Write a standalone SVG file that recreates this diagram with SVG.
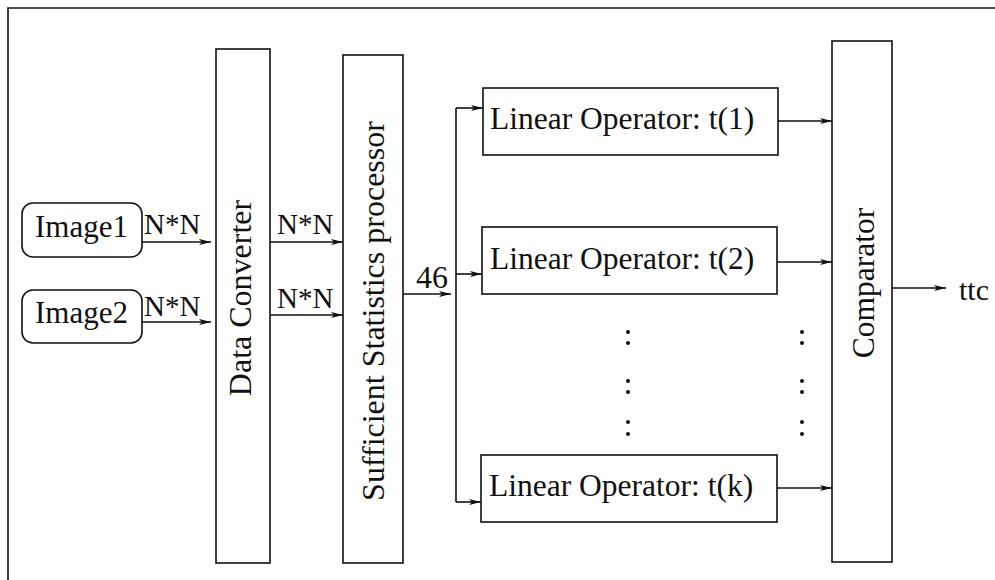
<svg xmlns="http://www.w3.org/2000/svg" width="995" height="580" viewBox="0 0 995 580">
  <style>
    .box { fill: none; stroke: #111; stroke-width: 1.6; }
    .wire { fill: none; stroke: #111; stroke-width: 1.6; }
    .lbl { font-family: "Liberation Serif", "Times New Roman", serif; fill: #111; }
    .dot { fill: #111; }
  </style>
  <defs>
    <marker id="arrow" viewBox="0 0 12 8" refX="12" refY="4" markerWidth="12" markerHeight="8" markerUnits="userSpaceOnUse" orient="auto">
      <path d="M0,1 L12,4 L0,7 L3,4 Z" fill="#111"/>
    </marker>
  </defs>

  <rect width="995" height="580" fill="#fff"/>

  <!-- outer frame (open on right and bottom) -->
  <path class="wire" d="M8,580 L8,8 L995,8"/>

  <g id="image1">
    <rect class="box" x="22" y="203" width="120" height="54" rx="11"/>
    <text class="lbl" x="35" y="237" font-size="31">Image1</text>
  </g>
  <g id="image2">
    <rect class="box" x="22" y="290" width="120" height="53" rx="11"/>
    <text class="lbl" x="35" y="323" font-size="31">Image2</text>
  </g>

  <g id="data-converter">
    <rect class="box" x="216" y="49" width="54" height="514"/>
    <text class="lbl" font-size="32" text-anchor="middle" transform="translate(251,298) rotate(-90)">Data Converter</text>
  </g>

  <g id="sufficient-statistics">
    <rect class="box" x="343" y="55" width="60" height="508"/>
    <text class="lbl" font-size="32" text-anchor="middle" transform="translate(384,311) rotate(-90)">Sufficient Statistics processor</text>
  </g>

  <g id="op1">
    <rect class="box" x="483" y="88" width="295" height="67"/>
    <text class="lbl" x="490" y="129" font-size="31.5">Linear Operator: t(1)</text>
  </g>
  <g id="op2">
    <rect class="box" x="482" y="227" width="295" height="67"/>
    <text class="lbl" x="490" y="269" font-size="31.5">Linear Operator: t(2)</text>
  </g>
  <g id="opk">
    <rect class="box" x="481" y="455" width="296" height="67"/>
    <text class="lbl" x="489" y="496" font-size="31.5">Linear Operator: t(k)</text>
  </g>

  <g id="comparator">
    <rect class="box" x="832" y="41" width="60" height="521"/>
    <text class="lbl" font-size="31.5" text-anchor="middle" transform="translate(874,283) rotate(-90)">Comparator</text>
  </g>

  <!-- vertical ellipses between operators -->
  <g id="ellipsis">
    <circle class="dot" cx="628" cy="332" r="2"/>
    <circle class="dot" cx="628" cy="343" r="2"/>
    <circle class="dot" cx="628" cy="381" r="2"/>
    <circle class="dot" cx="628" cy="392" r="2"/>
    <circle class="dot" cx="628" cy="422" r="2"/>
    <circle class="dot" cx="628" cy="434" r="2"/>
    <circle class="dot" cx="802" cy="332" r="2"/>
    <circle class="dot" cx="802" cy="343" r="2"/>
    <circle class="dot" cx="802" cy="381" r="2"/>
    <circle class="dot" cx="802" cy="392" r="2"/>
    <circle class="dot" cx="802" cy="422" r="2"/>
    <circle class="dot" cx="802" cy="434" r="2"/>
  </g>

  <g id="connectors">
    <!-- images into the converter -->
    <line class="wire" x1="142" y1="242" x2="211" y2="242" marker-end="url(#arrow)"/>
    <line class="wire" x1="142" y1="322" x2="211" y2="322" marker-end="url(#arrow)"/>
    <text class="lbl" x="144" y="234" font-size="29">N*N</text>
    <text class="lbl" x="144" y="316" font-size="29">N*N</text>

    <!-- converter into the statistics processor -->
    <line class="wire" x1="270" y1="242" x2="343" y2="242" marker-end="url(#arrow)"/>
    <line class="wire" x1="270" y1="315" x2="343" y2="315" marker-end="url(#arrow)"/>
    <text class="lbl" x="277" y="234" font-size="29">N*N</text>
    <text class="lbl" x="277" y="308" font-size="29">N*N</text>

    <!-- 46 statistics onto the bus -->
    <line class="wire" x1="403" y1="294" x2="451" y2="294" marker-end="url(#arrow)"/>
    <text class="lbl" x="416" y="288" font-size="32">46</text>
    <path class="wire" d="M456,108 L456,502"/>
    <line class="wire" x1="456" y1="108" x2="483" y2="108" marker-end="url(#arrow)"/>
    <line class="wire" x1="456" y1="274" x2="482" y2="274" marker-end="url(#arrow)"/>
    <line class="wire" x1="456" y1="502" x2="481" y2="502" marker-end="url(#arrow)"/>

    <!-- operators into the comparator -->
    <line class="wire" x1="778" y1="121" x2="832" y2="121" marker-end="url(#arrow)"/>
    <line class="wire" x1="777" y1="262" x2="832" y2="262" marker-end="url(#arrow)"/>
    <line class="wire" x1="777" y1="488" x2="832" y2="488" marker-end="url(#arrow)"/>

    <!-- output -->
    <line class="wire" x1="892" y1="288" x2="946" y2="288" marker-end="url(#arrow)"/>
    <text class="lbl" x="959" y="300" font-size="30">ttc</text>
  </g>
</svg>
